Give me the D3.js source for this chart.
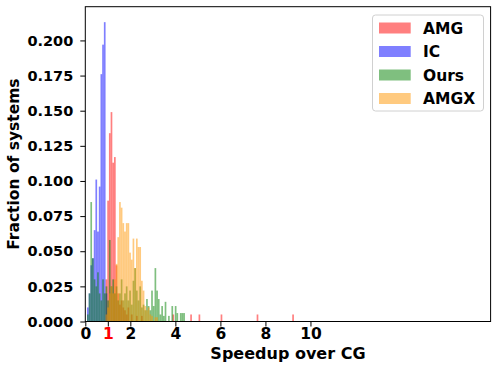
<!DOCTYPE html>
<html>
<head>
<meta charset="utf-8">
<script src="https://cdn.jsdelivr.net/npm/d3@7"></script>
<style>
  body { margin: 0; background: #fff; }
  svg text { font-family: "DejaVu Sans", sans-serif; font-weight: bold; }
</style>
</head>
<body>
<div class="speedup-viz"></div>
<script>
// histogram bin width (speedup units) shared by all series
const binWidth = 0.075;

// fraction of systems per bin, starting at bin index *Start
const icStart = 1;
const icFrac = [0.01, 0.02, 0.04, 0.045, 0.065, 0.101, 0.064, 0.096, 0.176, 0.197, 0.213, 0.02];

const amgStart = 12;
const amgFrac = [0.03, 0.086, 0.134, 0.149, 0.113, 0.117, 0.04, 0.02, 0.012, 0.015, 0.01, 0.008,
    0.005, 0.01, 0, 0.005, 0, 0, 0.004, 0, 0, 0.004];
// isolated AMG outliers (left edge of bin, fraction)
const amgTailAt = [3.87, 4.66, 5.03, 6.01, 7.61, 9.19];
const amgTailFrac = [0.005, 0.005, 0.005, 0.005, 0.005, 0.005];

const oursStart = 1;
const oursFrac = [0.005, 0.02, 0.085, 0.045, 0.03, 0.025, 0.035, 0.02, 0.015, 0.03, 0.02, 0.025,
    0.015, 0.058, 0.025, 0.03, 0.02, 0.025, 0.015, 0.02, 0.03, 0.015, 0.02, 0.025, 0.015, 0.022,
    0.012, 0.029, 0.038, 0.022, 0.015, 0.025, 0.01, 0.012, 0.008, 0.016, 0.011, 0.008, 0.022,
    0.011, 0.038, 0.022, 0.016, 0.005, 0.011, 0.004, 0.014, 0, 0.004, 0, 0.011, 0, 0.011, 0.006,
    0, 0.006, 0.006, 0.006];

const amgxStart = 12;
const amgxFrac = [0.005, 0.01, 0.02, 0.025, 0.02, 0.03, 0.041, 0.06, 0.085, 0.081, 0.07, 0.064,
    0.07, 0.07, 0.049, 0.044, 0.059, 0.038, 0.059, 0.053, 0.053, 0.029, 0.022, 0.011, 0.008,
    0.01, 0.005, 0.004, 0, 0.003, 0.003];

const seriesNames = ["AMG", "IC", "Ours", "AMGX"];
const seriesColors = ["#ff0000", "#0000ff", "#008000", "#ff9500"];

const xTicks = [0, 1, 2, 4, 6, 8, 10];
const yTicks = [0, 0.025, 0.05, 0.075, 0.1, 0.125, 0.15, 0.175, 0.2];

function toBins(start, fracs) {
    return fracs.map((f, i) => ({x0: (start + i) * binWidth, x1: (start + i + 1) * binWidth, f: f}))
        .filter(d => d.f > 0);
}

const series = [
    toBins(amgStart, amgFrac).concat(amgTailAt.map((a, i) => ({x0: a, x1: a + binWidth, f: amgTailFrac[i]}))),
    toBins(icStart, icFrac),
    toBins(oursStart, oursFrac),
    toBins(amgxStart, amgxFrac)
];

const width = 499, height = 371;
const x = d3.scaleLinear().domain([0, 18]).range([85.3, 490.6]);
const y = d3.scaleLinear().domain([0, 0.224]).range([321.5, 6.7]);

const svg = d3.select(".speedup-viz")
  .append("svg")
    .attr("width", width)
    .attr("height", height);

// bars, drawn in legend order so AMGX ends up on top
series.forEach((bins, k) => {
    svg.append("g")
        .attr("fill", seriesColors[k])
        .attr("fill-opacity", 0.5)
      .selectAll("rect")
      .data(bins)
      .join("rect")
        .attr("x", d => x(d.x0))
        .attr("y", d => y(d.f))
        .attr("width", d => x(d.x1) - x(d.x0))
        .attr("height", d => y(0) - y(d.f));
});

// axes
const xAxis = svg.append("g")
    .attr("transform", `translate(0,${y(0)})`)
    .call(d3.axisBottom(x).tickValues(xTicks).tickFormat(d3.format("d")).tickSize(5).tickPadding(1.5).tickSizeOuter(0));
xAxis.selectAll("text")
    .attr("font-size", 15.5)
    .attr("fill", d => d === 1 ? "#ff0000" : "#000");

const yAxis = svg.append("g")
    .attr("transform", `translate(${x(0)},0)`)
    .call(d3.axisLeft(y).tickValues(yTicks).tickFormat(d3.format(".3f")).tickSize(5).tickPadding(7).tickSizeOuter(0));
yAxis.selectAll("text").attr("font-size", 14.5).attr("fill", "#000");

svg.selectAll(".domain").remove();
svg.selectAll(".tick line").attr("stroke", "#000");
svg.selectAll(".tick text").attr("font-family", "DejaVu Sans").attr("font-weight", "bold");

// frame
svg.append("rect")
    .attr("x", x(0))
    .attr("y", y(0.224))
    .attr("width", x(18) - x(0))
    .attr("height", y(0) - y(0.224))
    .attr("fill", "none")
    .attr("stroke", "#000")
    .attr("stroke-width", 1);

// labels
svg.append("text")
    .attr("x", (x(0) + x(18)) / 2)
    .attr("y", 359)
    .attr("text-anchor", "middle")
    .attr("font-size", 16)
    .text("Speedup over CG");

svg.append("text")
    .attr("transform", `translate(19,${(y(0) + y(0.224)) / 2}) rotate(-90)`)
    .attr("text-anchor", "middle")
    .attr("font-size", 15.5)
    .text("Fraction of systems");

// legend
const legend = svg.append("g");
legend.append("rect")
    .attr("x", 372.5).attr("y", 15)
    .attr("width", 111).attr("height", 96)
    .attr("rx", 3)
    .attr("fill", "#fff").attr("fill-opacity", 0.8)
    .attr("stroke", "#d0d0d0");

seriesNames.forEach((name, i) => {
    const cy = 28 + i * 23.5;
    legend.append("rect")
        .attr("x", 379).attr("y", cy - 5.5)
        .attr("width", 31.7).attr("height", 11)
        .attr("fill", seriesColors[i]).attr("fill-opacity", 0.5);
    legend.append("text")
        .attr("x", 423).attr("y", cy)
        .attr("dy", "0.36em")
        .attr("font-size", 15.5)
        .text(name);
});
</script>
</body>
</html>
